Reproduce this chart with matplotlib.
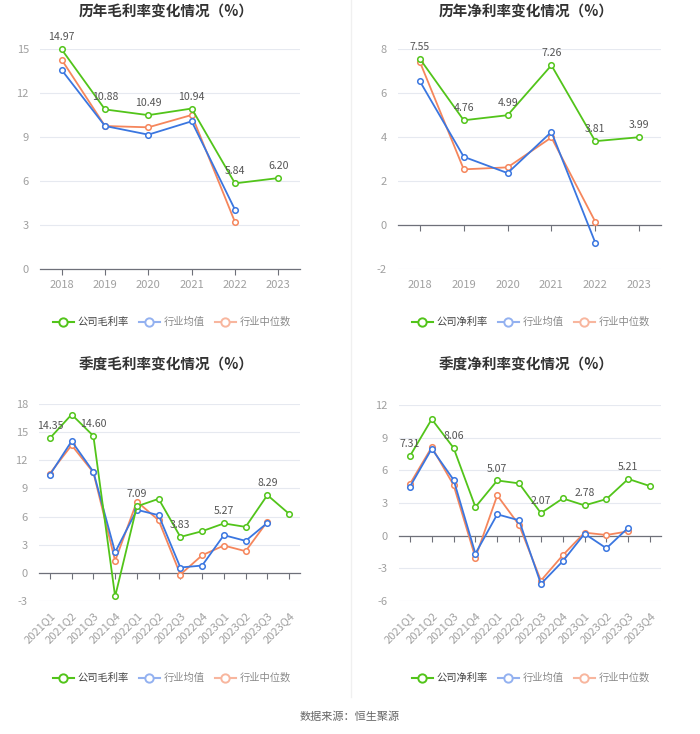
import matplotlib
matplotlib.use("Agg")
import matplotlib.pyplot as plt
from matplotlib.lines import Line2D
import numpy as np

plt.rcParams['font.family'] = ['Noto Sans CJK SC', 'DejaVu Sans']

GREEN = '#52c41a'
BLUE = '#3a76e0'
ORANGE = '#f5865c'
BLUE_L = '#93b1f0'
ORANGE_L = '#f8b69e'
GRID = '#e6e9f0'

years = ['2018', '2019', '2020', '2021', '2022', '2023']
quarters = ['2021Q1', '2021Q2', '2021Q3', '2021Q4', '2022Q1', '2022Q2',
            '2022Q3', '2022Q4', '2023Q1', '2023Q2', '2023Q3', '2023Q4']

# annual gross margin
gross_co = [14.97, 10.88, 10.49, 10.94, 5.84, 6.20]
gross_avg = [13.57, 9.75, 9.16, 10.07, 4.04, np.nan]
gross_med = [14.27, 9.75, 9.66, 10.50, 3.20, np.nan]

# annual net margin
net_co = [7.55, 4.76, 4.99, 7.26, 3.81, 3.99]
net_avg = [6.53, 3.10, 2.36, 4.23, -0.80, np.nan]
net_med = [7.41, 2.53, 2.62, 3.98, 0.15, np.nan]

# quarterly gross margin
qgross_co = [14.35, 16.88, 14.60, -2.52, 7.09, 7.89, 3.83, 4.44, 5.27, 4.90, 8.29, 6.29]
qgross_avg = [10.45, 14.04, 10.77, 2.20, 6.72, 6.15, 0.57, 0.78, 4.02, 3.41, 5.33, np.nan]
qgross_med = [10.59, 13.61, 10.70, 1.28, 7.60, 5.61, -0.18, 1.88, 2.91, 2.31, 5.47, np.nan]

# quarterly net margin
qnet_co = [7.31, 10.70, 8.06, 2.63, 5.07, 4.80, 2.07, 3.42, 2.78, 3.36, 5.21, 4.55]
qnet_avg = [4.49, 7.98, 5.13, -1.65, 1.96, 1.41, -4.43, -2.35, 0.18, -1.16, 0.73, np.nan]
qnet_med = [4.74, 8.13, 4.65, -2.02, 3.70, 0.98, -4.13, -1.80, 0.28, 0.06, 0.40, np.nan]

DPI = 100
fig = plt.figure(figsize=(7.0, 7.34), dpi=DPI)
FIG_H = 734


def panel(rect, cats, co, avg, med, ylim, yticks, labeled, rotate, title, title_x, title_y,
          co_name, legend_x, legend_y):
    ax = fig.add_axes(rect)
    x = np.arange(len(cats))
    ax.set_xlim(-0.5, len(cats) - 0.5)
    ax.set_ylim(*ylim)
    ax.set_yticks(yticks)
    ax.set_yticklabels([str(t) for t in yticks])
    ax.yaxis.grid(True, color=GRID, lw=0.8)
    ax.set_axisbelow(True)
    for s in ['top', 'right', 'left']:
        ax.spines[s].set_visible(False)
    ax.spines['bottom'].set_position(('data', 0))
    ax.spines['bottom'].set_color('#6e7079')
    ax.spines['bottom'].set_linewidth(0.9)
    # keep category labels at the bottom of the plot area
    h_px = rect[3] * FIG_H
    gap_px = (0 - ylim[0]) / (ylim[1] - ylim[0]) * h_px
    ax.set_xticks(x)
    if rotate:
        ax.set_xticklabels(cats, rotation=45, ha='right', rotation_mode='anchor')
        pad = (gap_px + 4) * 72 / DPI
    else:
        ax.set_xticklabels(cats)
        pad = (gap_px + 5) * 72 / DPI
    ax.tick_params(axis='x', length=4, color='#6e7079', pad=pad, labelsize=8, labelcolor='#a0a0a0')
    ax.tick_params(axis='y', length=0, pad=8, labelsize=8, labelcolor='#a0a0a0')

    kw = dict(marker='o', ms=4, mfc='white', mew=1.1, lw=1.3, clip_on=False)
    ax.plot(x, med, color=ORANGE, zorder=3, **kw)
    ax.plot(x, avg, color=BLUE, zorder=4, **kw)
    ax.plot(x, co, color=GREEN, zorder=5, **kw)
    for i in labeled:
        ax.annotate(f'{co[i]:.2f}', (x[i], co[i]), xytext=(0, 5), textcoords='offset points',
                    ha='center', va='bottom', fontsize=7.6, color='#555555', zorder=6)

    fig.text(title_x / 700, 1 - title_y / FIG_H, title, ha='center', va='center',
             fontsize=10.5, fontweight='bold', color='#333333')

    handles = [
        Line2D([], [], color=GREEN, marker='o', ms=6, mfc='white', mew=1.4, lw=1.5),
        Line2D([], [], color=BLUE_L, marker='o', ms=6, mfc='white', mew=1.4, lw=1.5),
        Line2D([], [], color=ORANGE_L, marker='o', ms=6, mfc='white', mew=1.4, lw=1.5),
    ]
    leg = fig.legend(handles, [co_name, '行业均值', '行业中位数'], loc='center',
                     bbox_to_anchor=(legend_x / 700, 1 - legend_y / FIG_H), ncol=3,
                     frameon=False, fontsize=7.4, handlelength=2.0, handletextpad=0.4,
                     columnspacing=1.0)
    for i, t in enumerate(leg.get_texts()):
        t.set_color('#444444' if i == 0 else '#8a8a8a')
    return ax


def rect_px(x0, x1, y_top, y_bot):
    return [x0 / 700, 1 - y_bot / FIG_H, (x1 - x0) / 700, (y_bot - y_top) / FIG_H]


panel(rect_px(40, 300, 49, 269), years, gross_co, gross_avg, gross_med,
      (0, 15), [0, 3, 6, 9, 12, 15], range(6), False,
      '历年毛利率变化情况（%）', 166, 12, '公司毛利率', 172, 322)
panel(rect_px(398, 661, 49, 269), years, net_co, net_avg, net_med,
      (-2, 8), [-2, 0, 2, 4, 6, 8], range(6), False,
      '历年净利率变化情况（%）', 526, 12, '公司净利率', 531, 322)
panel(rect_px(39, 300, 404, 601), quarters, qgross_co, qgross_avg, qgross_med,
      (-3, 18), [-3, 0, 3, 6, 9, 12, 15, 18], [0, 2, 4, 6, 8, 10], True,
      '季度毛利率变化情况（%）', 166, 365, '公司毛利率', 172, 678)
panel(rect_px(399, 661, 405, 601), quarters, qnet_co, qnet_avg, qnet_med,
      (-6, 12), [-6, -3, 0, 3, 6, 9, 12], [0, 2, 4, 6, 8, 10], True,
      '季度净利率变化情况（%）', 526, 365, '公司净利率', 531, 678)

# faint divider between the left and right columns
fig.add_artist(Line2D([351 / 700, 351 / 700], [0.05, 1.0], color='#f0f0f0', lw=1.0))

fig.text(0.5, 1 - 717 / FIG_H, '数据来源：恒生聚源', ha='center', va='center',
         fontsize=8, color='#666666')

fig.savefig('out.png', dpi=DPI, facecolor='white')
